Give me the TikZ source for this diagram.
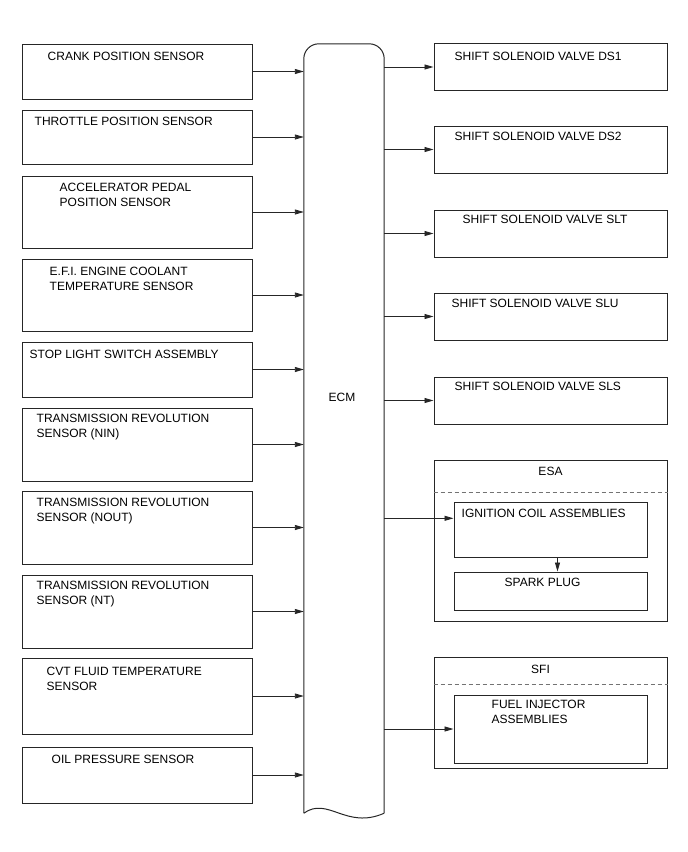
\documentclass[tikz,border=0pt]{standalone}
\usepackage{fontspec}
\setmainfont{Liberation Sans}
\usetikzlibrary{arrows.meta, positioning, calc}

\begin{document}
\begin{tikzpicture}[x=1pt, y=-1pt]
		\tikzstyle{box} = [rectangle, draw=black!85, line width=1pt, inner sep=0pt]
		\tikzstyle{sensor} = [box, minimum width=230pt]
		\tikzstyle{valve} = [box, minimum width=233pt, minimum height=47pt]
		\tikzstyle{part} = [box, minimum width=193pt]
		\tikzstyle{txt} = [inner sep=0pt, align=left, font=\fontsize{12}{14.5}\selectfont]
		\tikzstyle{line} = [draw=black!85, line width=0.9pt, -{Triangle[length=9pt,width=5pt]}]
		\tikzstyle{sep} = [draw=black!55, line width=1pt, dash pattern=on 4pt off 3pt]
		
		\useasboundingbox (0,0) rectangle (688,852);
		
		% inputs
		\node [sensor, minimum height=55pt] (crank) at (137,71.5) {};
		\node [sensor, minimum height=54pt] (throttle) at (137,137) {};
		\node [sensor, minimum height=72pt] (accel) at (137,212) {};
		\node [sensor, minimum height=72pt] (efi) at (137,295) {};
		\node [sensor, minimum height=55pt] (stop) at (137,369.5) {};
		\node [sensor, minimum height=73pt] (nin) at (137,444.5) {};
		\node [sensor, minimum height=73pt] (nout) at (137,527.5) {};
		\node [sensor, minimum height=73pt] (nt) at (137,611.5) {};
		\node [sensor, minimum height=76pt] (cvt) at (137,696) {};
		\node [sensor, minimum height=56pt] (oil) at (137,775) {};
		
		\node [txt, below right=8.7pt and 26pt of crank.north west] (crank-t) {CRANK POSITION SENSOR};
		\node [txt, below right=7.7pt and 13pt of throttle.north west] (throttle-t) {THROTTLE POSITION SENSOR};
		\node [txt, below right=7.7pt and 38pt of accel.north west] (accel-t) {ACCELERATOR PEDAL\\POSITION SENSOR};
		\node [txt, below right=8.7pt and 28pt of efi.north west] (efi-t) {E.F.I. ENGINE COOLANT\\TEMPERATURE SENSOR};
		\node [txt, below right=8.7pt and 8pt of stop.north west] (stop-t) {STOP LIGHT SWITCH ASSEMBLY};
		\node [txt, below right=6.7pt and 15pt of nin.north west] (nin-t) {TRANSMISSION REVOLUTION\\SENSOR (NIN)};
		\node [txt, below right=7.7pt and 15pt of nout.north west] (nout-t) {TRANSMISSION REVOLUTION\\SENSOR (NOUT)};
		\node [txt, below right=6.7pt and 15pt of nt.north west] (nt-t) {TRANSMISSION REVOLUTION\\SENSOR (NT)};
		\node [txt, below right=9.7pt and 25pt of cvt.north west] (cvt-t) {CVT FLUID TEMPERATURE\\SENSOR};
		\node [txt, below right=8.7pt and 30pt of oil.north west] (oil-t) {OIL PRESSURE SENSOR};
		
		% ECM
		\node [minimum width=80pt, minimum height=769pt, inner sep=0pt] (ecm) at (344,428.5) {};
		\node [txt] (ecm-t) at (342,397) {ECM};
		\draw [draw=black!85, line width=1pt, rounded corners=15pt] (ecm.south west) -- (ecm.north west) -- (ecm.north east) -- (ecm.south east);
		\draw [draw=black!85, line width=1pt] (ecm.south west) .. controls (328,796) and (346,830) .. (ecm.south east);
		
		% outputs
		\node [valve] (ds1) at (550.5,67) {};
		\node [valve] (ds2) at (550.5,149.5) {};
		\node [valve] (slt) at (550.5,233.5) {};
		\node [valve] (slu) at (550.5,316.5) {};
		\node [valve] (sls) at (550.5,400.5) {};
		
		\node [txt, below right=8.7pt and 21pt of ds1.north west] (ds1-t) {SHIFT SOLENOID VALVE DS1};
		\node [txt, below right=6.7pt and 21pt of ds2.north west] (ds2-t) {SHIFT SOLENOID VALVE DS2};
		\node [txt, below right=5.7pt and 29pt of slt.north west] (slt-t) {SHIFT SOLENOID VALVE SLT};
		\node [txt, below right=6.7pt and 18pt of slu.north west] (slu-t) {SHIFT SOLENOID VALVE SLU};
		\node [txt, below right=5.7pt and 21pt of sls.north west] (sls-t) {SHIFT SOLENOID VALVE SLS};
		
		\node [box, minimum width=233pt, minimum height=161pt] (esa) at (550.5,540.5) {};
		\node [txt, below=7pt of esa.north] (esa-t) {ESA};
		\node [part, minimum height=55pt] (ign) at (550.5,529.5) {};
		\node [part, minimum height=38pt] (spark) at (550.5,591) {};
		\node [txt, below right=7.7pt and 8pt of ign.north west] (ign-t) {IGNITION COIL ASSEMBLIES};
		\node [txt, below right=6.7pt and 51pt of spark.north west] (spark-t) {SPARK PLUG};
		\path [sep] ([yshift=-33pt]esa.north west) -- ([yshift=-33pt]esa.north east);
		
		\node [box, minimum width=233pt, minimum height=111pt] (sfi) at (550.5,712.5) {};
		\node [txt, below=8pt of sfi.north, xshift=-10pt] (sfi-t) {SFI};
		\node [part, minimum height=68pt] (fuel) at (550.5,729) {};
		\node [txt, below right=5.7pt and 38pt of fuel.north west] (fuel-t) {FUEL INJECTOR\\ASSEMBLIES};
		\path [sep] ([yshift=-28pt]sfi.north west) -- ([yshift=-28pt]sfi.north east);
		
		% connections
		\foreach \s in {crank, throttle, accel, efi, stop, nin, nout, nt, cvt, oil}
			\path [line] (\s.east) -- (\s.east -| ecm.west);
		\foreach \v in {ds1, ds2, slt, slu, sls, fuel}
			\path [line] (\v.west -| ecm.east) -- (\v.west);
		\coordinate (ign-in) at ($(ign.north west)!0.3!(ign.south west)$);
		\path [line] (ign-in -| ecm.east) -- (ign-in);
		\path [line] ([xshift=7pt]ign.south) -- ([xshift=7pt]spark.north);
	\end{tikzpicture}
\end{document}
